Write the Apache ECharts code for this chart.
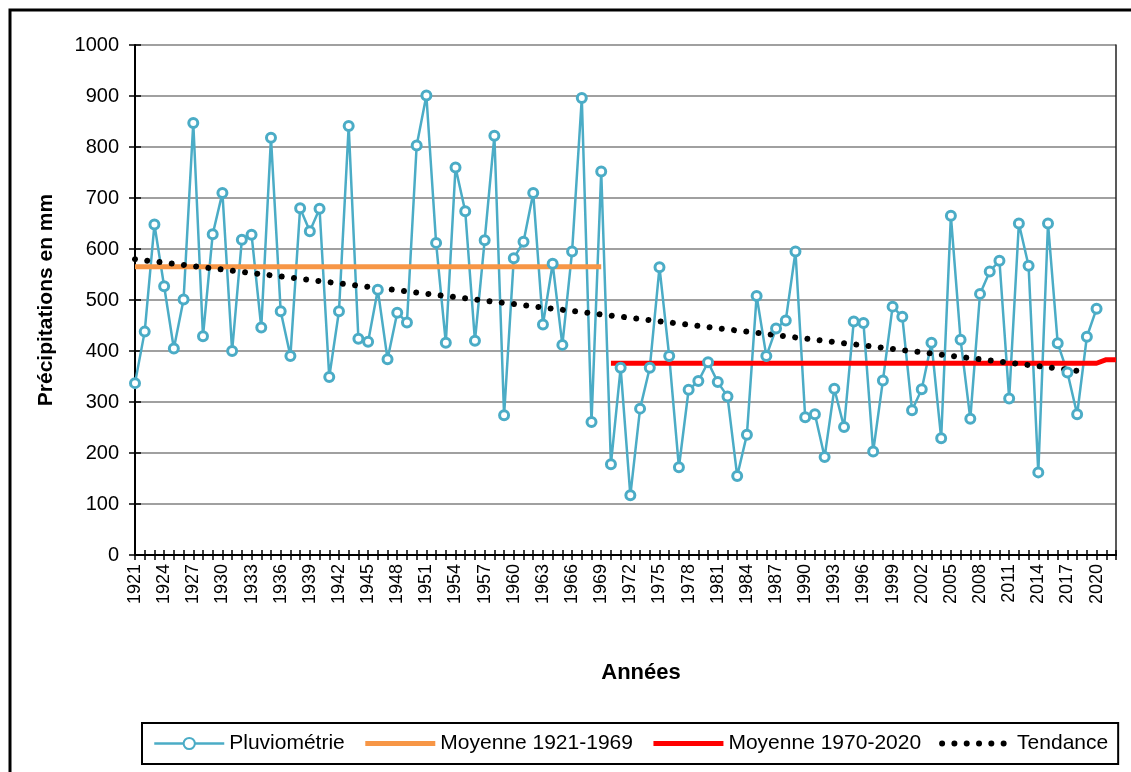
<!DOCTYPE html>
<html>
<head>
<meta charset="utf-8">
<script src="https://cdn.jsdelivr.net/npm/echarts@6/dist/echarts.min.js"></script>
<style>
  html, body { margin: 0; padding: 0; background: #fff; }
  #chart { width: 1131px; height: 772px; }
</style>
</head>
<body>
<div id="chart"></div>
<script>
// categories: years on the axis (the axis runs two years past the data)
const years = []
for (let y = 1921; y <= 2022; y++) years.push(String(y))

// annual rainfall 1921-2020, mm
const rain = [
  337, 438, 648, 527, 405, 501, 847, 429, 629, 710,
  400, 618, 628, 446, 818, 478, 390, 680, 635, 679,
  349, 478, 841, 424, 418, 520, 384, 475, 456, 803,
  901, 612, 416, 760, 674, 420, 617, 822, 274, 582,
  614, 710, 452, 571, 412, 595, 896, 261, 752, 178,
  367, 117, 287, 367, 564, 390, 172, 324, 341, 378,
  339, 311, 155, 236, 508, 390, 444, 460, 595, 270,
  276, 192, 326, 251, 458, 455, 203, 342, 487, 467,
  284, 325, 416, 229, 665, 422, 267, 512, 556, 577,
  307, 650, 567, 162, 650, 415, 358, 276, 428, 483
]

// mean lines and trend
const meanOld = [['1921', 565], ['1969', 565]]
const meanNew = [['1970', 376], ['2020', 376], ['2021', 383], ['2022', 383]]
const trend = [['1921', 580], ['2019', 359]]

const yTicks = { min: 0, max: 1000, interval: 100 }

const font = '"Liberation Sans", Arial, sans-serif'
const chart = echarts.init(document.getElementById('chart'))

const trendDash = { color: '#000', width: 6, type: [0.01, 12.3], cap: 'round' }
const noMarker = { opacity: 0 }

const option = {
  animation: false,
  backgroundColor: '#fff',
  grid: { left: 135, right: 15, top: 45, bottom: 217 },
  xAxis: [
    {
      type: 'category',
      data: years,
      boundaryGap: false,
      axisLine: { lineStyle: { color: '#000', width: 2 } },
      axisTick: { interval: 0, length: 5, lineStyle: { color: '#000', width: 1.5 } },
      axisLabel: {
        interval: 2,
        rotate: 90,
        fontSize: 18,
        color: '#000',
        fontFamily: font,
        margin: 9
      },
      splitLine: { show: false }
    },
    {
      // inner half of the crossing ticks
      type: 'category',
      data: years,
      position: 'bottom',
      boundaryGap: false,
      axisLine: { show: false },
      axisTick: { interval: 0, inside: true, length: 5, lineStyle: { color: '#000', width: 1.5 } },
      axisLabel: { show: false },
      splitLine: { show: false }
    }
  ],
  yAxis: [
    {
      type: 'value',
      min: yTicks.min,
      max: yTicks.max,
      interval: yTicks.interval,
      name: 'Précipitations en mm',
      nameLocation: 'middle',
      nameGap: 78,
      nameTextStyle: { fontSize: 21, fontWeight: 'bold', color: '#000', fontFamily: font },
      axisLine: { show: true, lineStyle: { color: '#000', width: 2 } },
      axisTick: { show: true, length: 6, lineStyle: { color: '#000', width: 1.5 } },
      axisLabel: {
        fontSize: 20,
        color: '#000',
        fontFamily: font,
        margin: 16,
        formatter: v => String(v)
      },
      splitLine: { show: true, lineStyle: { color: '#808080', width: 1.5 } }
    },
    {
      type: 'value',
      min: yTicks.min,
      max: yTicks.max,
      interval: yTicks.interval,
      position: 'left',
      axisLine: { show: false },
      axisTick: { show: true, inside: true, length: 6, lineStyle: { color: '#000', width: 1.5 } },
      axisLabel: { show: false },
      splitLine: { show: false }
    },
    {
      type: 'value',
      min: yTicks.min,
      max: yTicks.max,
      position: 'right',
      axisLine: { show: true, lineStyle: { color: '#222', width: 1.5 } },
      axisTick: { show: false },
      axisLabel: { show: false },
      splitLine: { show: false }
    }
  ],
  legend: {
    left: 142,
    top: 723,
    padding: [10, 10, 10, 11],
    itemWidth: 70,
    itemHeight: 14,
    itemGap: 18,
    borderColor: '#000',
    borderWidth: 2,
    textStyle: { fontSize: 21, color: '#000', fontFamily: font },
    data: [
      { name: 'Pluviométrie', lineStyle: { width: 2.5 } },
      { name: 'Moyenne 1921-1969', itemStyle: noMarker, lineStyle: { width: 5 } },
      { name: 'Moyenne 1970-2020', itemStyle: noMarker, lineStyle: { width: 5 } },
      { name: 'Tendance', itemStyle: noMarker, lineStyle: trendDash }
    ]
  },
  graphic: [
    {
      type: 'rect',
      shape: { x: 10, y: 10, width: 1200, height: 900 },
      style: { fill: 'none', stroke: '#000', lineWidth: 3 },
      silent: true
    },
    {
      type: 'text',
      x: 641,
      y: 673,
      style: {
        text: 'Années',
        fontSize: 22,
        fontWeight: 'bold',
        fontFamily: font,
        fill: '#000',
        align: 'center',
        verticalAlign: 'middle'
      }
    }
  ],
  series: [
    {
      name: 'Pluviométrie',
      type: 'line',
      data: rain,
      color: '#4BACC6',
      symbol: 'circle',
      symbolSize: 9,
      showAllSymbol: true,
      lineStyle: { color: '#4BACC6', width: 2.5 },
      itemStyle: { color: '#fff', borderColor: '#4BACC6', borderWidth: 3 }
    },
    {
      name: 'Moyenne 1921-1969',
      type: 'line',
      data: meanOld,
      color: '#F79646',
      symbol: 'none',
      lineStyle: { color: '#F79646', width: 5 }
    },
    {
      name: 'Moyenne 1970-2020',
      type: 'line',
      data: meanNew,
      color: '#FF0000',
      symbol: 'none',
      lineStyle: { color: '#FF0000', width: 5 }
    },
    {
      name: 'Tendance',
      type: 'line',
      data: trend,
      color: '#000',
      symbol: 'none',
      lineStyle: trendDash
    }
  ]
}

chart.setOption(option)
window.addEventListener('resize', () => chart.resize())
</script>
</body>
</html>
